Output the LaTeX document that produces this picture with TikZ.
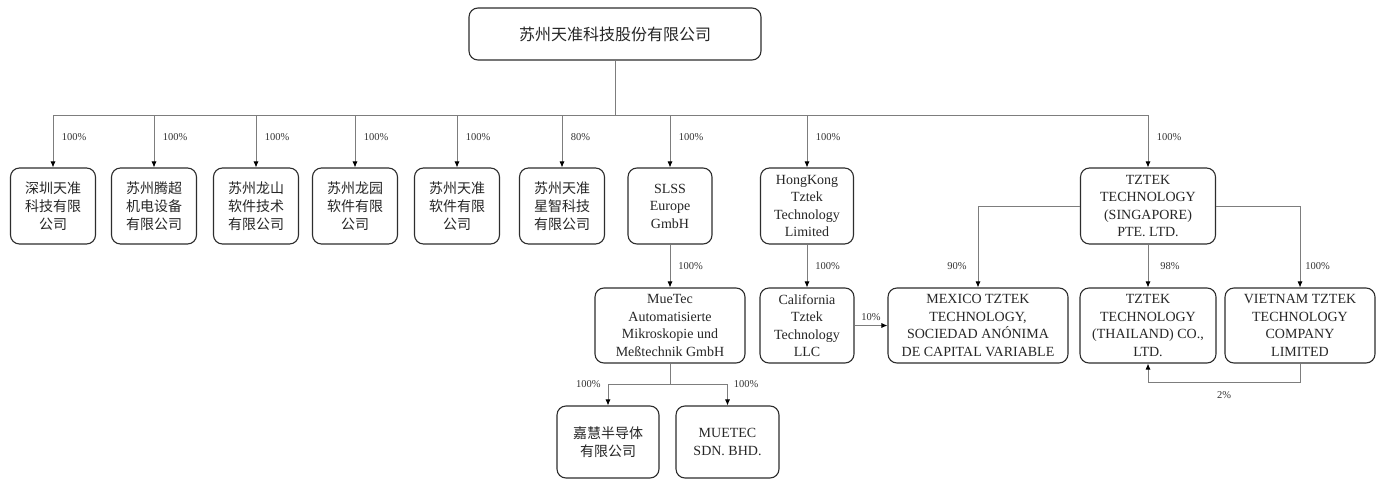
\documentclass[tikz,border=0pt]{standalone}
\usepackage{fontspec}
\setmainfont{Liberation Serif}
\newfontfamily\cjk{Noto Sans CJK SC}
\usepackage{tikz}
\usetikzlibrary{arrows.meta}
\definecolor{linegray}{RGB}{125,125,125}
\definecolor{boxline}{RGB}{45,45,45}
\tikzset{
  firm/.style={draw=boxline, line width=1.1pt, rounded corners=9pt, align=center, inner sep=0pt, text=black!85},
  cn/.style={font=\cjk\fontsize{14}{18}\selectfont},
  en/.style={font=\fontsize{14}{17.5}\selectfont},
  link/.style={draw=linegray, line width=0.8pt},
  arr/.style={link, -{Latex[length=6pt,width=5pt,color=black]}},
  pct/.style={font=\fontsize{10.5}{12}\selectfont, inner sep=1pt, text=black!80}
}

\begin{document}
\begin{tikzpicture}[x=1pt,y=-1pt]
\path[fill=white,use as bounding box] (0,0) rectangle (1386,479);
\node[firm,font=\cjk\fontsize{16}{20}\selectfont,minimum width=292,minimum height=52] (top) at (615,34) {苏州天准科技股份有限公司};
\foreach \n/\x/\t in {c1/53/{深圳天准\\科技有限\\公司},c2/154/{苏州腾超\\机电设备\\有限公司},c3/256/{苏州龙山\\软件技术\\有限公司},c4/355/{苏州龙园\\软件有限\\公司},c5/457/{苏州天准\\软件有限\\公司},c6/562/{苏州天准\\星智科技\\有限公司}}
  { \node[firm,cn,minimum width=85,minimum height=76] (\n) at (\x,206) {\t}; }
\node[firm,en,minimum width=84,minimum height=76] (slss) at (670,206) {SLSS\\Europe\\GmbH};
\node[firm,en,minimum width=93,minimum height=76] (hk) at (807,206) {HongKong\\Tztek\\Technology\\Limited};
\node[firm,en,minimum width=135,minimum height=76] (sg) at (1148,206) {TZTEK\\TECHNOLOGY\\(SINGAPORE)\\PTE. LTD.};
\node[firm,en,minimum width=150,minimum height=75] (mue) at (670,325.5) {MueTec\\Automatisierte\\Mikroskopie und\\Meßtechnik GmbH};
\node[firm,en,minimum width=94,minimum height=75] (cal) at (807,325.5) {California\\Tztek\\Technology\\LLC};
\node[firm,en,minimum width=180,minimum height=75] (mex) at (978,325.5) {MEXICO TZTEK\\TECHNOLOGY,\\SOCIEDAD ANÓNIMA\\DE CAPITAL VARIABLE};
\node[firm,en,minimum width=136,minimum height=75] (th) at (1148,325.5) {TZTEK\\TECHNOLOGY\\(THAILAND) CO.,\\LTD.};
\node[firm,en,minimum width=150,minimum height=75] (vn) at (1300,325.5) {VIETNAM TZTEK\\TECHNOLOGY\\COMPANY\\LIMITED};
\node[firm,cn,minimum width=102,minimum height=72] (jh) at (608,442) {嘉慧半导体\\有限公司};
\node[firm,en,minimum width=103,minimum height=72] (ms) at (727.5,442) {MUETEC\\SDN. BHD.};

\draw[link] (top.south) -- (615,115) coordinate (hub);
\draw[link] (c1.north |- hub) -- (sg.north |- hub);
\foreach \n/\p in {c1/100,c2/100,c3/100,c4/100,c5/100,c6/80,slss/100,hk/100,sg/100}
  { \draw[arr] (\n.north |- hub) -- node[pct,right=7.5pt,pos=0.43]{\p\%} (\n.north); }
\draw[arr] (slss) -- node[pct,right=7pt]{100\%} (mue);
\draw[arr] (hk) -- node[pct,right=7pt]{100\%} (cal);
\draw[arr] (cal) -- node[pct,above=3pt]{10\%} (mex);
\draw[arr] (sg.west) -| node[pct,left=10pt,pos=0.87]{90\%} (mex.north);
\draw[arr] (sg) -- node[pct,right=11pt]{98\%} (th);
\draw[arr] (sg.east) -| node[pct,right=4pt,pos=0.87]{100\%} (vn.north);
\draw[arr] (vn.south) -- ++(0,19) -| node[pct,below=8pt,pos=0.25]{2\%} (th.south);
\draw[link] (mue.south) -- ++(0,21) coordinate (mhub);
\draw[arr] (mhub) -| node[pct,left=6pt,pos=0.5]{100\%} (jh.north);
\draw[arr] (mhub) -| node[pct,right=5pt,pos=0.5]{100\%} (ms.north);
\end{tikzpicture}
\end{document}
